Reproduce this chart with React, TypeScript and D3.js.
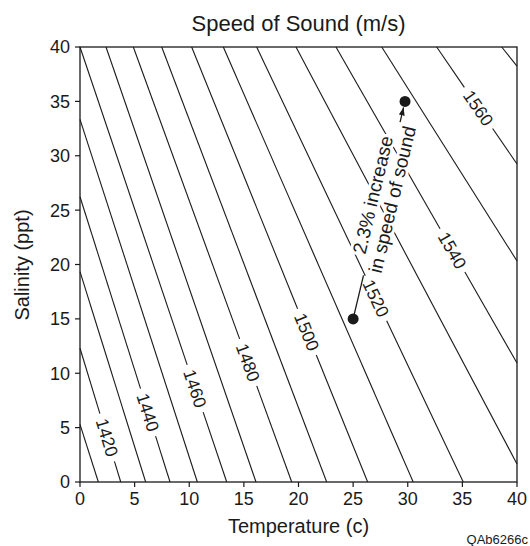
import * as d3 from 'd3'

// contour speeds (m/s) and where each line meets the frame (temperature c, salinity ppt)
const speeds = [1410, 1420, 1430, 1440, 1450, 1460, 1470, 1480, 1490, 1500, 1510, 1520, 1530, 1540, 1550, 1560, 1570]
const startTemp = [0, 0, 0, 0, 0, 0, 2.38, 4.88, 7.48, 10.22, 13.12, 16.17, 19.77, 23.43, 27.62, 32.65, 38.6]
const startSal = [5.3, 12.3, 19.34, 26.23, 33.35, 40, 40, 40, 40, 40, 40, 40, 40, 40, 40, 40, 40]
const endTemp = [1.68, 3.73, 6.01, 8.24, 10.74, 13.43, 16.11, 19.38, 22.58, 26.33, 30.5, 35.08, 40, 40, 40, 40, 40]
const endSal = [0, 0, 0, 0, 0, 0, 0, 0, 0, 0, 0, 0, 1.66, 10.94, 20.32, 29.24, 38.25]

// labelled contours and the salinity where the label sits
const labelledSpeeds = [1420, 1440, 1460, 1480, 1500, 1520, 1540, 1560]
const labelSal = [4.1, 6.4, 8.6, 11, 13.8, 16.9, 21.3, 34.4]

const tempTicks = [0, 5, 10, 15, 20, 25, 30, 35, 40]
const salTicks = [0, 5, 10, 15, 20, 25, 30, 35, 40]

// the two marked points and the note between them
const fromPoint: [number, number] = [25, 15]
const toPoint: [number, number] = [29.75, 35]
const noteLines = ['2.3% increase', 'in speed of sound']

const font = 'Liberation Sans, Arial, Helvetica, sans-serif'
const ink = '#1a1a1a'
const labelSize = 17.5

const x = d3.scaleLinear().domain([0, 40]).range([80, 517])
const y = d3.scaleLinear().domain([0, 40]).range([482, 47])
const line = d3
  .line<[number, number]>()
  .x(d => x(d[0]))
  .y(d => y(d[1]))

const lerp = (a: [number, number], b: [number, number], t: number): [number, number] => [
  a[0] + (b[0] - a[0]) * t,
  a[1] + (b[1] - a[1]) * t,
]

const screenAngle = (a: [number, number], b: [number, number]) =>
  (Math.atan2(y(b[1]) - y(a[1]), x(b[0]) - x(a[0])) * 180) / Math.PI

const contours = speeds.map((speed, i) => {
  const a: [number, number] = [startTemp[i], startSal[i]]
  const b: [number, number] = [endTemp[i], endSal[i]]
  const li = labelledSpeeds.indexOf(speed)
  if (li < 0) return { speed, paths: [line([a, b])], label: null }

  const len = Math.hypot(x(b[0]) - x(a[0]), y(b[1]) - y(a[1]))
  const gap = labelSize * 0.556 * String(speed).length + 11 // text width + padding
  const t = (labelSal[li] - a[1]) / (b[1] - a[1])
  const dt = gap / 2 / len
  return {
    speed,
    paths: [line([a, lerp(a, b, t - dt)]), line([lerp(a, b, t + dt), b])],
    label: { pos: lerp(a, b, t), angle: screenAngle(a, b) },
  }
})

const Chart = () => {
  const noteAngle = screenAngle(fromPoint, toPoint)
  const noteAt = lerp(fromPoint, toPoint, 0.56)
  const lowEnd = lerp(fromPoint, toPoint, 0.2)
  const upStart = lerp(fromPoint, toPoint, 0.905)
  const upEnd = lerp(fromPoint, toPoint, 0.972)

  return (
    <svg
      width={530}
      height={546}
      style={{ position: 'absolute', left: 0, top: 0, background: '#fff' }}
      fontFamily={font}
    >
      <defs>
        <marker
          id="head"
          viewBox="0 0 8 6"
          refX={8}
          refY={3}
          markerWidth={8}
          markerHeight={6}
          markerUnits="userSpaceOnUse"
          orient="auto"
        >
          <path d="M0,0L8,3L0,6Z" fill={ink} />
        </marker>
      </defs>

      <text x={298.5} y={31} textAnchor="middle" fontSize={22} fill={ink}>
        Speed of Sound (m/s)
      </text>

      {/* contour lines */}
      <g stroke={ink} strokeWidth={1.1} fill="none">
        {contours.map(c => c.paths.map((d, j) => <path key={`${c.speed}-${j}`} d={d ?? ''} />))}
      </g>

      <g fontSize={labelSize} fill={ink} textAnchor="middle">
        {contours
          .filter(c => c.label)
          .map(c => (
            <text
              key={c.speed}
              transform={`translate(${x(c.label!.pos[0])},${y(c.label!.pos[1])}) rotate(${c.label!.angle})`}
              dy="0.36em"
            >
              {c.speed}
            </text>
          ))}
      </g>

      {/* frame and axes */}
      <g stroke={ink} fill="none">
        <rect x={x(0)} y={y(40)} width={x(40) - x(0)} height={y(0) - y(40)} strokeWidth={1.3} />
        {tempTicks.map(t => (
          <line key={t} x1={x(t)} x2={x(t)} y1={y(0)} y2={y(0) + 5} strokeWidth={1.2} />
        ))}
        {salTicks.map(s => (
          <line key={s} x1={x(0) - 5} x2={x(0)} y1={y(s)} y2={y(s)} strokeWidth={1.2} />
        ))}
      </g>
      <g fontSize={18} fill={ink}>
        {tempTicks.map(t => (
          <text key={t} x={x(t)} y={y(0) + 23} textAnchor="middle">
            {t}
          </text>
        ))}
        {salTicks.map(s => (
          <text key={s} x={x(0) - 10} y={y(s)} dy="0.36em" textAnchor="end">
            {s}
          </text>
        ))}
      </g>

      <text x={298.5} y={533} textAnchor="middle" fontSize={20} fill={ink}>
        Temperature (c)
      </text>
      <text transform="translate(29,265) rotate(-90)" textAnchor="middle" fontSize={20} fill={ink}>
        Salinity (ppt)
      </text>

      {/* annotation */}
      <g stroke={ink} strokeWidth={1.3}>
        <path d={line([fromPoint, lowEnd]) ?? ''} />
        <path d={line([upStart, upEnd]) ?? ''} markerEnd="url(#head)" />
      </g>
      <g fill={ink}>
        <circle cx={x(fromPoint[0])} cy={y(fromPoint[1])} r={5.5} />
        <circle cx={x(toPoint[0])} cy={y(toPoint[1])} r={5.5} />
      </g>
      <g
        transform={`translate(${x(noteAt[0])},${y(noteAt[1])}) rotate(${noteAngle})`}
        fontSize={19}
        fill={ink}
        textAnchor="middle"
      >
        {noteLines.map((s, i) => (
          <text
            key={s}
            y={i === 0 ? -3 : 17}
            stroke="#fff"
            strokeWidth={6}
            strokeLinejoin="round"
            paintOrder="stroke"
          >
            {s}
          </text>
        ))}
      </g>

      <text x={528} y={544} textAnchor="end" fontSize={13} fill={ink}>
        QAb6266c
      </text>
    </svg>
  )
}

export default function App() {
  return <Chart />
}
